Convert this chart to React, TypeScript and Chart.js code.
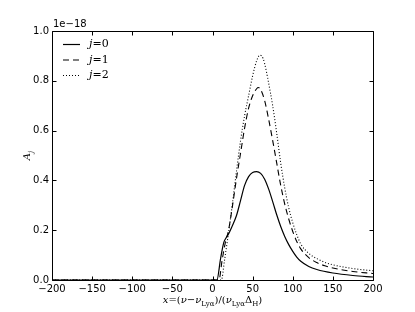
import React, { useEffect, useRef } from 'react';
import { Chart, registerables } from 'chart.js';
Chart.register(...registerables);

const X_MIN = -200;
const X_MAX = 200;
const Y_MIN = 0;
const Y_MAX = 1.0;
const xTicks = [-200, -150, -100, -50, 0, 50, 100, 150, 200];
const yTicks = [0, 0.2, 0.4, 0.6, 0.8, 1.0];
const offsetText = '1e\u221218';

// j = 0 (solid)
const x0 = [-200, 5.5, 10, 14, 17, 20, 25, 30, 35, 40, 45, 50, 55, 60, 65, 70, 75, 80, 85, 90, 95, 100, 105, 110, 120, 130, 150, 175, 200];
const a0 = [0, 0, 0.085, 0.15, 0.17, 0.185, 0.22, 0.26, 0.32, 0.38, 0.415, 0.432, 0.435, 0.428, 0.405, 0.365, 0.315, 0.262, 0.215, 0.175, 0.142, 0.115, 0.092, 0.075, 0.054, 0.042, 0.028, 0.018, 0.012];
// j = 1 (dashed)
const x1 = [-200, 8, 12, 16, 20, 25, 30, 35, 40, 45, 50, 55, 57, 60, 65, 70, 75, 80, 85, 90, 95, 100, 105, 110, 120, 130, 140, 150, 175, 200];
const a1 = [0, 0, 0.08, 0.15, 0.2, 0.3, 0.41, 0.51, 0.61, 0.69, 0.74, 0.768, 0.773, 0.765, 0.72, 0.645, 0.56, 0.47, 0.38, 0.305, 0.245, 0.195, 0.155, 0.125, 0.09, 0.07, 0.057, 0.048, 0.034, 0.026];
// j = 2 (dotted)
const x2 = [-200, 11, 15, 20, 25, 30, 35, 40, 45, 50, 55, 59, 63, 67, 70, 75, 80, 85, 90, 95, 100, 105, 110, 120, 130, 140, 150, 175, 200];
const a2 = [0, 0, 0.08, 0.19, 0.31, 0.44, 0.56, 0.66, 0.74, 0.82, 0.88, 0.903, 0.89, 0.84, 0.79, 0.7, 0.59, 0.47, 0.37, 0.29, 0.23, 0.182, 0.145, 0.107, 0.086, 0.071, 0.061, 0.046, 0.037];

const seriesLabels = ['0', '1', '2'];
const seriesDash = [[], [6, 4], [1, 2]];

const toPts = (xs: number[], ys: number[]) => xs.map((x, i) => ({ x, y: ys[i] }));

type Seg = { t: string; it?: boolean; sub?: boolean };

function drawRich(ctx: CanvasRenderingContext2D, segs: Seg[], size: number, cx: number, cy: number) {
  const fam = '"DejaVu Serif", "Liberation Serif", serif';
  const fontFor = (s: Seg) => `${s.it ? 'italic ' : ''}${s.sub ? size * 0.7 : size}px ${fam}`;
  let w = 0;
  for (const s of segs) { ctx.font = fontFor(s); w += ctx.measureText(s.t).width; }
  let x = cx - w / 2;
  ctx.textBaseline = 'alphabetic';
  ctx.textAlign = 'left';
  for (const s of segs) {
    ctx.font = fontFor(s);
    ctx.fillText(s.t, x, cy + (s.sub ? size * 0.3 : 0));
    x += ctx.measureText(s.t).width;
  }
}

const decorPlugin = {
  id: 'decor',
  afterDatasetsDraw(chart: any) {
    const { ctx, chartArea: a, scales } = chart;
    const xs = scales.x;
    const ys = scales.y;
    ctx.save();
    ctx.strokeStyle = '#000';
    ctx.lineWidth = 1;
    ctx.setLineDash([]);
    const L = Math.round(a.left) + 0.5;
    const R = Math.round(a.right) + 0.5;
    const T = Math.round(a.top) + 0.5;
    const B = Math.round(a.bottom) + 0.5;
    ctx.beginPath();
    ctx.rect(L, T, R - L, B - T);
    ctx.stroke();
    ctx.beginPath();
    for (const t of xTicks) {
      const px = Math.round(xs.getPixelForValue(t)) + 0.5;
      ctx.moveTo(px, B); ctx.lineTo(px, B - 4);
      ctx.moveTo(px, T); ctx.lineTo(px, T + 4);
    }
    for (const t of yTicks) {
      const py = Math.round(ys.getPixelForValue(t)) + 0.5;
      ctx.moveTo(L, py); ctx.lineTo(L + 4, py);
      ctx.moveTo(R, py); ctx.lineTo(R - 4, py);
    }
    ctx.stroke();

    // offset text
    ctx.fillStyle = '#000';
    ctx.font = '10px "DejaVu Sans", sans-serif';
    ctx.textAlign = 'left';
    ctx.textBaseline = 'bottom';
    ctx.fillText(offsetText, a.left + 1, a.top - 2);

    // legend
    const ds = chart.data.datasets;
    for (let i = 0; i < ds.length; i++) {
      const ly = a.top + 13.5 + i * 15.5;
      ctx.beginPath();
      ctx.setLineDash(seriesDash[i]);
      ctx.lineWidth = 1.2;
      ctx.moveTo(a.left + 11, ly);
      ctx.lineTo(a.left + 28, ly);
      ctx.stroke();
      ctx.setLineDash([]);
      ctx.fillStyle = '#000';
      const segs: Seg[] = [{ t: 'j', it: true }, { t: '=' }, { t: seriesLabels[i] }];
      let tx = a.left + 37;
      ctx.textBaseline = 'middle';
      for (const s of segs) {
        ctx.font = `${s.it ? 'italic ' : ''}11px "DejaVu Serif", "Liberation Serif", serif`;
        ctx.fillText(s.t, tx, ly);
        tx += ctx.measureText(s.t).width;
      }
    }

    // x title
    ctx.fillStyle = '#000';
    drawRich(ctx, [
      { t: 'x', it: true }, { t: '=(' }, { t: '\u03bd', it: true }, { t: '\u2212' }, { t: '\u03bd', it: true },
      { t: 'Ly\u03b1', sub: true }, { t: ')/(' }, { t: '\u03bd', it: true }, { t: 'Ly\u03b1', sub: true },
      { t: '\u0394' }, { t: 'H', sub: true }, { t: ')' },
    ], 10, (a.left + a.right) / 2, 303);

    // y title
    ctx.save();
    ctx.translate(30, (a.top + a.bottom) / 2);
    ctx.rotate(-Math.PI / 2);
    drawRich(ctx, [{ t: 'A', it: true }, { t: 'j', it: true, sub: true }], 10, 0, 0);
    ctx.restore();

    ctx.restore();
  },
};

export default function App() {
  const ref = useRef<HTMLCanvasElement | null>(null);
  useEffect(() => {
    if (!ref.current) return;
    const mk = (i: number, xs: number[], ys: number[]) => ({
      label: 'j=' + seriesLabels[i],
      data: toPts(xs, ys),
      borderColor: '#000',
      borderWidth: i === 0 ? 1.2 : 1.1,
      borderDash: seriesDash[i],
      pointRadius: 0,
      fill: false,
      cubicInterpolationMode: 'monotone' as const,
    });
    const chart = new Chart(ref.current, {
      type: 'line',
      data: { datasets: [mk(0, x0, a0), mk(1, x1, a1), mk(2, x2, a2)] },
      options: {
        animation: false,
        responsive: false,
        maintainAspectRatio: false,
        layout: { padding: { left: 0, right: 42, top: 31, bottom: 0 } },
        plugins: { legend: { display: false }, tooltip: { enabled: false } },
        scales: {
          x: {
            type: 'linear', min: X_MIN, max: X_MAX,
            afterBuildTicks: (s: any) => { s.ticks = xTicks.map(v => ({ value: v })); },
            afterFit: (s: any) => { s.height = 32; },
            grid: { display: false, drawTicks: false },
            border: { display: false },
            ticks: {
              padding: 3, color: '#000', maxRotation: 0, autoSkip: false,
              font: { family: '"DejaVu Sans", sans-serif', size: 10 },
              callback: (v: any) => String(v).replace('-', '\u2212'),
            },
          },
          y: {
            type: 'linear', min: Y_MIN, max: Y_MAX,
            afterBuildTicks: (s: any) => { s.ticks = yTicks.map(v => ({ value: v })); },
            afterFit: (s: any) => { s.width = 52; },
            grid: { display: false, drawTicks: false },
            border: { display: false },
            ticks: {
              padding: 3, color: '#000', autoSkip: false,
              font: { family: '"DejaVu Sans", sans-serif', size: 10 },
              callback: (v: any) => Number(v).toFixed(1),
            },
          },
        },
      },
      plugins: [decorPlugin],
    });
    return () => chart.destroy();
  }, []);
  return (
    <div style={{ position: 'fixed', left: 0, top: 0, width: 415, height: 312, background: '#fff' }}>
      <canvas ref={ref} width={415} height={312} style={{ width: 415, height: 312 }} />
    </div>
  );
}
